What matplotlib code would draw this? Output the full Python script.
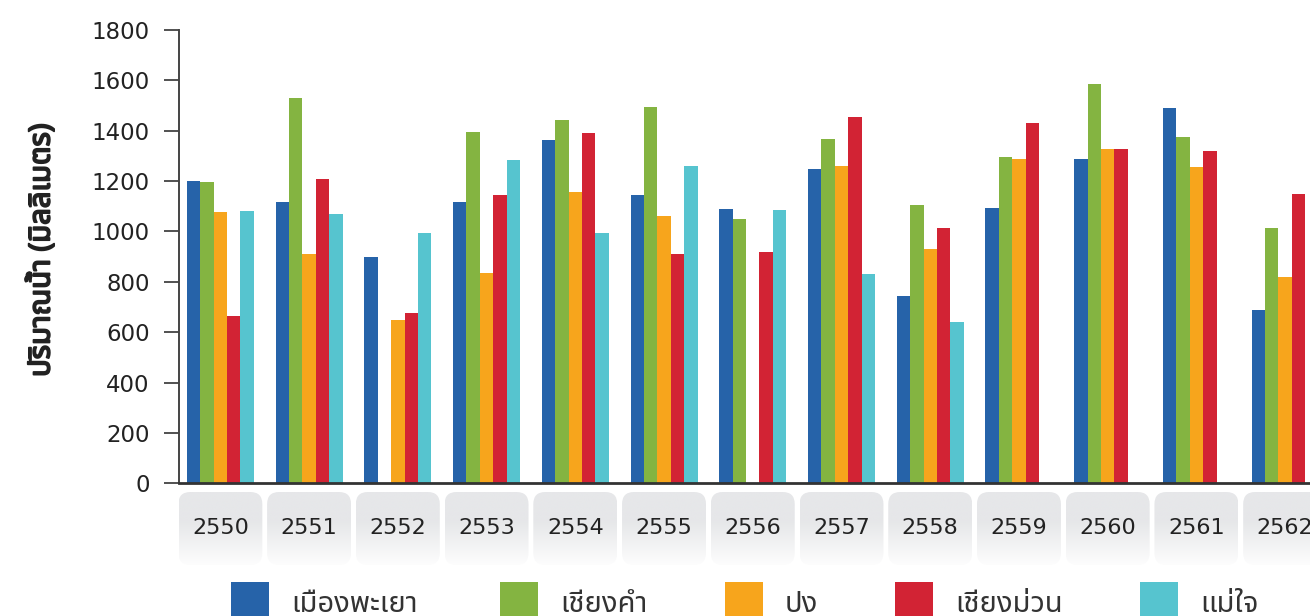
#Rainfall per district, grouped bars by year (Thai labels)

import numpy as np
import matplotlib
matplotlib.use('Agg')
import matplotlib.pyplot as plt
import matplotlib.patheffects as pe
from matplotlib import font_manager
from matplotlib.ft2font import FT2Font
from matplotlib.patches import FancyBboxPatch, Rectangle
from matplotlib.colors import LinearSegmentedColormap

#data
years = ['2550', '2551', '2552', '2553', '2554', '2555', '2556',
         '2557', '2558', '2559', '2560', '2561', '2562']
series_names = ['เมืองพะเยา', 'เชียงคำ', 'ปง', 'เชียงม่วน', 'แม่ใจ']
nan = np.nan
mueang_phayao = [1200, 1117, 898, 1117, 1363, 1144, 1089, 1248, 744, 1093, 1288, 1491, 689]
chiang_kham   = [1196, 1530, nan, 1396, 1442, 1495, 1049, 1367, 1105, 1296, 1586, 1375, 1014]
pong          = [1077, 910, 648, 835, 1157, 1062, nan, 1260, 930, 1288, 1328, 1256, 820]
chiang_muan   = [664, 1208, 676, 1144, 1391, 910, 918, 1455, 1014, 1431, 1328, 1320, 1149]
mae_chai      = [1081, 1069, 994, 1284, 994, 1260, 1085, 831, 641, nan, nan, nan, nan]
values = [mueang_phayao, chiang_kham, pong, chiang_muan, mae_chai]
colors = ['#2663a9', '#84b441', '#f7a51c', '#d22334', '#56c4cf']

#find a font that has Thai glyphs, prefer loopless ones
thai_fonts = []
for f in font_manager.fontManager.ttflist:
    try:
        cmap = FT2Font(f.fname).get_charmap()
    except Exception:
        continue
    if 0x0E1B in cmap and 0x0E4D in cmap:
        thai_fonts.append(f.name)
thai_font = None
for pref in ['Noto Sans Thai', 'Noto Sans Thai UI', 'Tahoma', 'Leelawadee UI',
             'Sarabun', 'Laksaman', 'Loma']:
    if pref in thai_fonts:
        thai_font = pref
        break
if thai_font is None and thai_fonts:
    loopless = [n for n in thai_fonts if 'Looped' not in n]
    thai_font = (loopless or thai_fonts)[0]
families = [thai_font, 'DejaVu Sans'] if thai_font else ['DejaVu Sans']
plt.rcParams['font.family'] = families

W, H = 1310, 616
fig = plt.figure(figsize=(W / 100, H / 100), dpi=100)

def px(x0, y0, x1, y1):
    #pixel box (top-left origin) -> figure fraction rect
    return [x0 / W, 1 - y1 / H, (x1 - x0) / W, (y1 - y0) / H]

ax = fig.add_axes(px(179, 30, W, 483.3))
x = np.arange(len(years))
bw = 0.151
for i, (vals, c) in enumerate(zip(values, colors)):
    ax.bar(x + (i - 2) * bw, vals, width=bw, color=c, linewidth=0)

xmin, xmax = -0.466, 12.28
ax.set_xlim(xmin, xmax)
ax.set_ylim(0, 1800)
ax.set_yticks(range(0, 1801, 200))
ax.set_xticks([])
for s in ['top', 'right']:
    ax.spines[s].set_visible(False)
ax.spines['left'].set_color('#444444')
ax.spines['left'].set_linewidth(1.4)
ax.spines['bottom'].set_color('#333333')
ax.spines['bottom'].set_linewidth(2)
ax.tick_params(axis='y', length=11, width=1.2, color='#333333', pad=10,
               labelsize=16.5, labelcolor='#222222')
for t in ax.get_yticklabels():
    t.set_family('DejaVu Sans')

#y label as figure text; stroke to fake the bold weight
fig.text(42 / W, 1 - 250 / H, 'ปริมาณน้ำ (มิลลิเมตร)', rotation=90,
         ha='center', va='center', fontsize=21, fontweight='bold',
         color='#222222', family=families,
         path_effects=[pe.withStroke(linewidth=1.3, foreground='#222222')])

#category label strip with rounded gradient boxes
sx = fig.add_axes(px(179, 492, W, 565))
sx.axis('off')
grad = np.linspace(0, 1, 100)
grad = np.clip((grad - 0.4) / 0.6, 0, 1)[:, None]
cm = LinearSegmentedColormap.from_list('g', ['#e6e7e9', '#fdfdfd'])
half = 0.473
unit_x = (W - 179) / (xmax - xmin)
unit_y = 73
r = 12 / unit_x
for i, yr in enumerate(years):
    box = FancyBboxPatch((i - half, 0), 2 * half, 1,
                         boxstyle='round,pad=0,rounding_size=%f' % r,
                         mutation_aspect=unit_x / unit_y,
                         facecolor='none', edgecolor='none', transform=sx.transData)
    sx.add_patch(box)
    im = sx.imshow(grad, extent=[i - half, i + half, 0, 1], origin='upper',
                   cmap=cm, aspect='auto', interpolation='bilinear', vmin=0, vmax=1)
    im.set_clip_path(box)
    sx.text(i, 0.5, yr, ha='center', va='center', fontsize=16,
            color='#222222', family='DejaVu Sans')
sx.set_xlim(xmin, xmax)
sx.set_ylim(0, 1)

#legend (bottom, partly cut off)
square_x = [231, 500, 725, 895, 1140]
for name, c, sx0 in zip(series_names, colors, square_x):
    fig.patches.append(Rectangle((sx0 / W, 1 - 622 / H), 38 / W, 40 / H,
                                 transform=fig.transFigure, facecolor=c,
                                 edgecolor='none'))
    fig.text((sx0 + 60) / W, 1 - 612 / H, name, fontsize=21, color='#333333',
             ha='left', va='baseline', family=families)

fig.savefig('out.png', dpi=100)
